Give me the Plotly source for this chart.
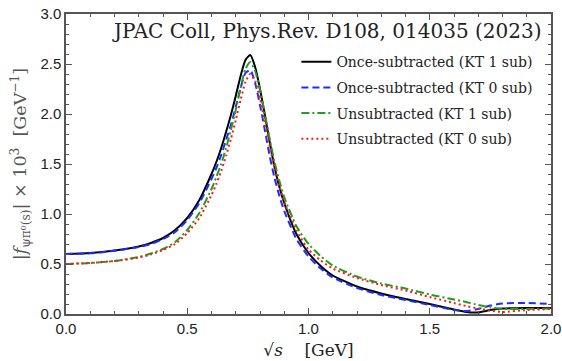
import plotly.graph_objects as go

sqrt_s = [0.0, 0.1, 0.2, 0.3, 0.35, 0.4, 0.45, 0.5, 0.55, 0.6, 0.62, 0.64, 0.66, 0.68, 0.7, 0.72,
          0.74, 0.76, 0.78, 0.8, 0.82, 0.84, 0.86, 0.88, 0.9, 0.95, 1.0, 1.05, 1.1, 1.2, 1.3, 1.4,
          1.5, 1.6, 1.65, 1.7, 1.75, 1.8, 1.9, 2.0]

once_kt1 = [0.60, 0.61, 0.635, 0.675, 0.71, 0.76, 0.84, 0.96, 1.14, 1.40, 1.52, 1.66, 1.82, 1.99, 2.18, 2.38,
            2.54, 2.59, 2.47, 2.25, 1.99, 1.72, 1.47, 1.27, 1.11, 0.80, 0.61, 0.48, 0.385, 0.275, 0.205, 0.15,
            0.10, 0.045, 0.02, 0.015, 0.04, 0.055, 0.06, 0.06]

once_kt0 = [0.60, 0.607, 0.632, 0.67, 0.70, 0.75, 0.82, 0.94, 1.11, 1.35, 1.46, 1.59, 1.74, 1.89, 2.07, 2.26,
            2.41, 2.44, 2.31, 2.09, 1.84, 1.58, 1.36, 1.18, 1.03, 0.75, 0.575, 0.455, 0.365, 0.26, 0.19, 0.14,
            0.09, 0.04, 0.03, 0.05, 0.085, 0.105, 0.11, 0.10]

unsub_kt1 = [0.50, 0.51, 0.53, 0.57, 0.605, 0.65, 0.72, 0.84, 1.01, 1.25, 1.37, 1.50, 1.66, 1.84, 2.04, 2.26,
             2.45, 2.52, 2.43, 2.24, 2.00, 1.75, 1.52, 1.33, 1.17, 0.88, 0.70, 0.58, 0.485, 0.375, 0.305, 0.255,
             0.195, 0.145, 0.12, 0.09, 0.065, 0.05, 0.05, 0.055]

unsub_kt0 = [0.50, 0.51, 0.53, 0.565, 0.595, 0.64, 0.70, 0.81, 0.96, 1.19, 1.30, 1.43, 1.58, 1.75, 1.94, 2.14,
             2.32, 2.40, 2.33, 2.15, 1.92, 1.68, 1.46, 1.28, 1.12, 0.84, 0.645, 0.535, 0.455, 0.36, 0.29, 0.235,
             0.17, 0.11, 0.08, 0.055, 0.035, 0.02, 0.04, 0.05]

series = [
    ("Once-subtracted (KT 1 sub)", once_kt1, "#000000", "solid"),
    ("Once-subtracted (KT 0 sub)", once_kt0, "#1a2eff", "7px,4px"),
    ("Unsubtracted (KT 1 sub)", unsub_kt1, "#1f9e1f", "8px,3px,2px,3px"),
    ("Unsubtracted (KT 0 sub)", unsub_kt0, "#ff1a1a", "2px,3px"),
]

fig = go.Figure()
for i, (name, ys, col, dash) in enumerate(series):
    fig.add_trace(go.Scatter(
        x=sqrt_s, y=ys, mode="lines", name=name, legendgroup=f"g{i}",
        line=dict(color=col, width=2, dash=dash, shape="spline", smoothing=0.6),
    ))

serif = "DejaVu Serif, serif"
sans = "Liberation Sans, Arial, sans-serif"

axis_common = dict(
    showgrid=False, zeroline=False, showline=True, linecolor="#555", linewidth=1.5,
    mirror="allticks", ticks="inside", ticklen=6, tickcolor="#555", automargin=False,
    tickfont=dict(family=sans, size=15, color="#222"),
)

fig.update_xaxes(
    range=[0, 2.0], tickvals=[0, 0.5, 1.0, 1.5, 2.0], ticktext=["0.0", "0.5", "1.0", "1.5", "2.0"],
    minor=dict(dtick=0.1, ticks="inside", ticklen=3, tickcolor="#555"),
    title=dict(text="√<i>s</i>    [GeV]", font=dict(family=serif, size=17, color="#222"), standoff=8),
    **axis_common,
)
fig.update_yaxes(
    range=[0, 3.0], tickvals=[0, 0.5, 1.0, 1.5, 2.0, 2.5, 3.0],
    ticktext=["0.0", "0.5", "1.0", "1.5", "2.0", "2.5", "3.0"],
    minor=dict(dtick=0.1, ticks="inside", ticklen=3, tickcolor="#555"),
    title=dict(text="|<i>f</i><sub>ψπ⁰(s)</sub>| × 10<sup>3</sup>  [GeV<sup>−1</sup>]",
               font=dict(family=serif, size=17.5, color="#555"), standoff=9),
    **axis_common,
)

fig.add_annotation(
    x=0.985, y=0.945, xref="paper", yref="paper", xanchor="right", yanchor="middle",
    text="JPAC Coll, Phys.Rev. D108, 014035 (2023)", showarrow=False,
    font=dict(family=serif, size=20, color="#222"),
)

fig.update_layout(
    width=562, height=361, margin=dict(l=66, r=11, t=14, b=47),
    plot_bgcolor="white", paper_bgcolor="white",
    legend=dict(x=0.475, y=0.893, xanchor="left", yanchor="top", bgcolor="rgba(0,0,0,0)",
                font=dict(family=serif, size=14, color="#222"), tracegroupgap=4.5,
                traceorder="grouped"),
)

fig.write_html("out.html")
